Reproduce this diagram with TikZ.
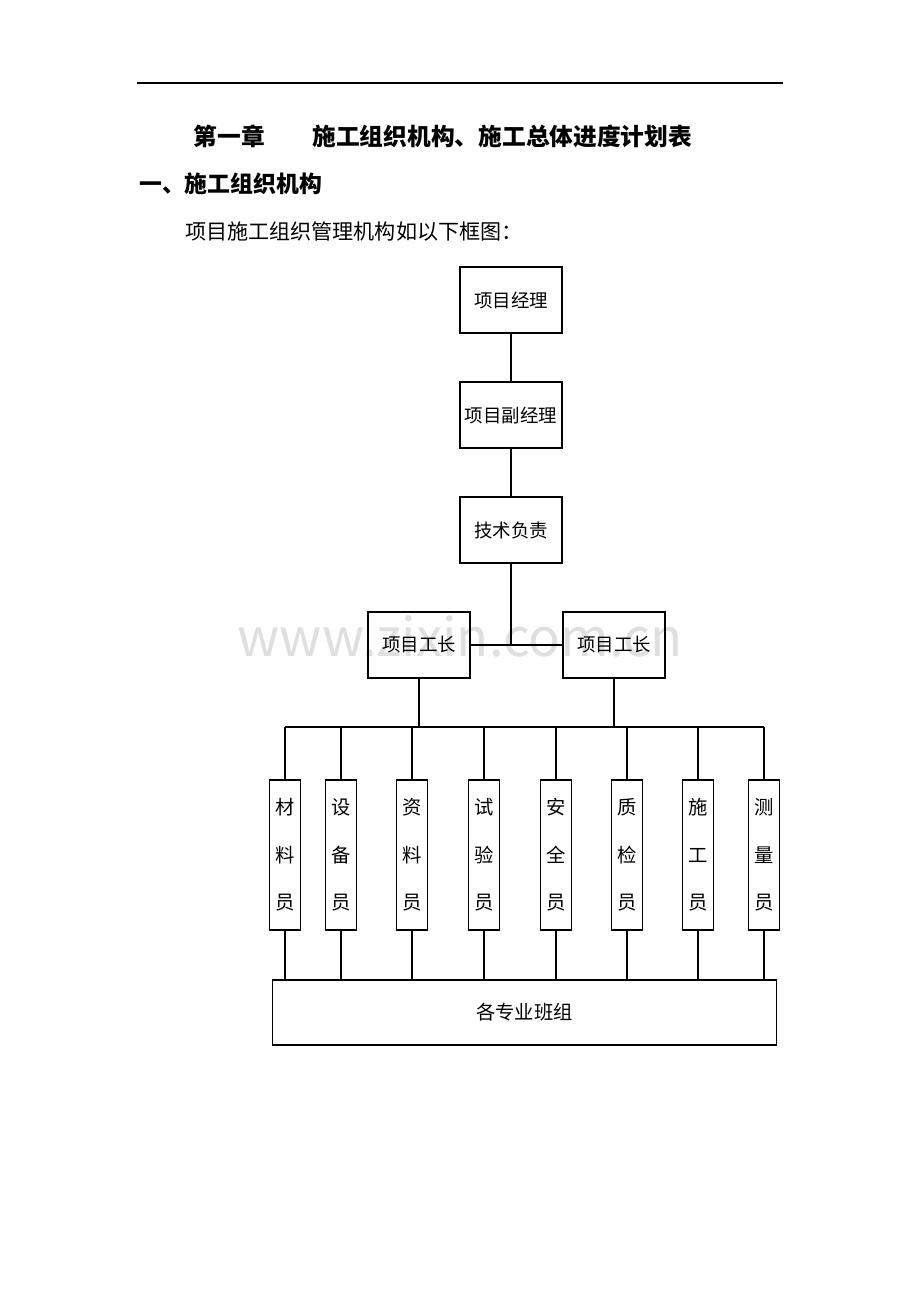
\documentclass[tikz,border=0pt]{standalone}
\usepackage{fontspec}
\setmainfont{Noto Sans CJK SC}
\usetikzlibrary{positioning}
\tikzset{
  box/.style={draw,line width=0.6pt,inner xsep=1pt,minimum width=2.04cm,minimum height=1.32cm,font=\fontsize{10.5}{13}\selectfont},
  vbox/.style={draw,line width=0.6pt,minimum width=0.6cm,minimum height=3cm,align=center,font=\fontsize{11}{27}\selectfont},
  link/.style={line width=0.6pt}
}
\begin{document}
\begin{tikzpicture}[x=0.02cm,y=-0.02cm]
  \useasboundingbox (0,0) rectangle (920,1302);
  \draw[line width=0.6pt] (137,83) -- (783,83);
  \node[font=\fontsize{13.5}{15}\selectfont\bfseries] (title) at (443,136) {第一章\hspace{2em}施工组织机构、施工总体进度计划表};
  \node[anchor=west,font=\fontsize{13}{15}\selectfont\bfseries] (sec) at (133,184) {一、施工组织机构};
  \node[anchor=west,font=\fontsize{12}{14}\selectfont] (intro) at (179,232) {项目施工组织管理机构如以下框图：};
  \node[text=gray!25,font=\fontsize{30}{32}\selectfont] (mark) at (460,636) {www.zixin.com.cn};
  % boxes
  \node[box] (pm) at (511,300) {项目经理};
  \node[box] (dpm) at (511,415) {项目副经理};
  \node[box] (tech) at (511,530) {技术负责};
  \node[box] (fl) at (419,645) {项目工长};
  \node[box] (fr) at (614,645) {项目工长};
  \node[draw,line width=0.6pt,minimum width=10.1cm,minimum height=1.3cm,font=\fontsize{11}{13}\selectfont] (team) at (524.5,1012.5) {各专业班组};
  \foreach \x/\t/\n in {285/材\\料\\员/a, 341/设\\备\\员/b, 412/资\\料\\员/c, 484/试\\验\\员/d,
                        556/安\\全\\员/e, 627/质\\检\\员/f, 698/施\\工\\员/g, 764/测\\量\\员/h}
  {
    \node[vbox] (\n) at (\x,855) {\t};
    \coordinate (bus\n) at (\x,727);
    \draw[link] (bus\n) -- (\n.north);
    \draw[link] (\n.south) -- (\n.south |- team.north);
  }
  % connectors
  \draw[link] (pm) -- (dpm);
  \draw[link] (dpm) -- (tech);
  \coordinate (mid) at (511,645);
  \draw[link] (tech) -- (mid);
  \draw[link] (fl) -- (fr);
  \draw[link] (busa) -- (bush);
  \draw[link] (fl.south) -- (fl.south |- busa);
  \draw[link] (fr.south) -- (fr.south |- busa);
\end{tikzpicture}
\end{document}
